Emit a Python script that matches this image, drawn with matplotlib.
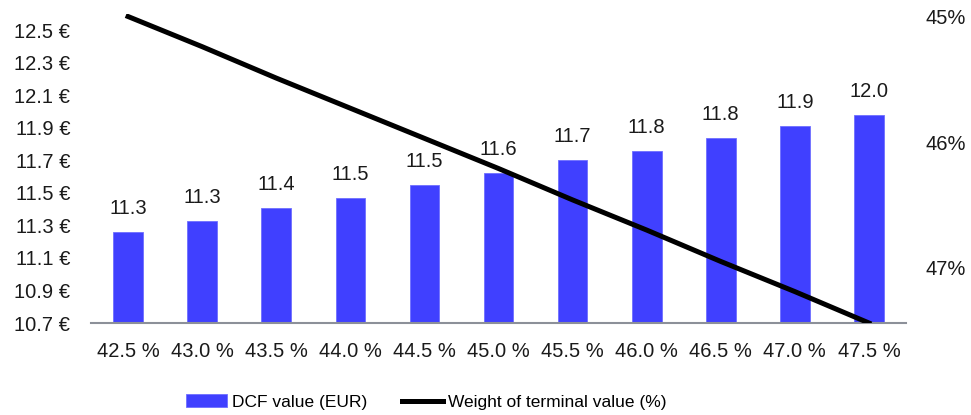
import matplotlib.pyplot as plt
from matplotlib.ticker import FuncFormatter

plt.rcParams["font.family"] = ["Liberation Sans", "DejaVu Sans"]

categories = ["42.5 %", "43.0 %", "43.5 %", "44.0 %", "44.5 %", "45.0 %",
              "45.5 %", "46.0 %", "46.5 %", "47.0 %", "47.5 %"]
dcf_values = [11.26, 11.33, 11.41, 11.47, 11.55, 11.62, 11.70, 11.76, 11.84, 11.91, 11.98]
dcf_labels = ["11.3", "11.3", "11.4", "11.5", "11.5", "11.6", "11.7", "11.8", "11.8", "11.9", "12.0"]
tv_weight = [45.00, 45.24, 45.49, 45.73, 45.97, 46.21, 46.46, 46.70, 46.95, 47.19, 47.44]
left_ticks = [10.7, 10.9, 11.1, 11.3, 11.5, 11.7, 11.9, 12.1, 12.3, 12.5]
right_ticks = [45, 46, 47]

bar_color = "#4040FF"
text_color = "#1a1a1a"

fig = plt.figure(figsize=(9.71, 4.15), dpi=100)
ax = fig.add_axes([91 / 971, 1 - 323 / 415, (906 - 91) / 971, (323 - 14) / 415])
x = list(range(len(categories)))

bars = ax.bar(x, dcf_values, width=0.4, color=bar_color, edgecolor="#6f6fff",
              linewidth=0.6, label="DCF value (EUR)", zorder=2)
for xi, v, lab in zip(x, dcf_values, dcf_labels):
    ax.annotate(lab, (xi, v), xytext=(0, 10), textcoords="offset points",
                ha="center", va="bottom", fontsize=14.5, color=text_color)

ax.set_xlim(-0.5, len(categories) - 0.5)
ax.set_ylim(10.7, 12.6)
ax.set_yticks(left_ticks)
ax.yaxis.set_major_formatter(FuncFormatter(lambda v, p: f"{v:.1f} €"))
ax.set_xticks(x)
ax.set_xticklabels(categories)
ax.tick_params(axis="both", length=0, labelsize=14.5, colors=text_color)
ax.tick_params(axis="y", pad=15)
ax.tick_params(axis="x", pad=14)
for s in ["top", "right", "left"]:
    ax.spines[s].set_visible(False)
ax.spines["bottom"].set_color("#8c9099")
ax.spines["bottom"].set_linewidth(1.5)

ax2 = ax.twinx()
line, = ax2.plot(x, tv_weight, color="black", linewidth=3.6,
                 label="Weight of terminal value (%)", zorder=3)
ax2.set_ylim(47.44, 44.98)
ax2.set_yticks(right_ticks)
ax2.yaxis.set_major_formatter(FuncFormatter(lambda v, p: f"{v:.0f}%"))
ax2.tick_params(axis="y", length=0, labelsize=14.5, colors=text_color, pad=14)
for s in ax2.spines.values():
    s.set_visible(False)

fig.legend([bars, line], ["DCF value (EUR)", "Weight of terminal value (%)"],
           loc="center", bbox_to_anchor=(426 / 971, 1 - 402 / 415), ncol=2,
           frameon=False, handlelength=2.36, handletextpad=0.3, handleheight=0.7,
           columnspacing=2.0, prop={"family": "Liberation Sans", "size": 12.5})

fig.savefig("out.png", dpi=100)
